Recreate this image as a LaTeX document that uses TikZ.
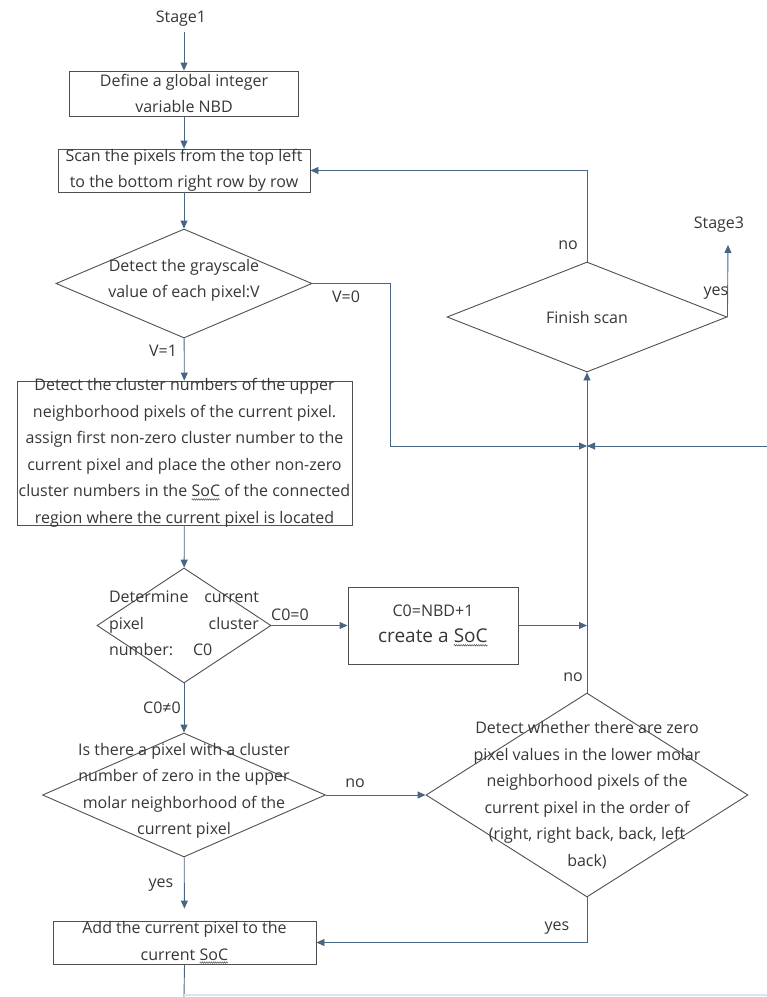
\documentclass[tikz,border=0pt]{standalone}
\usepackage{fontspec}
\setmainfont{Open Sans}
\usetikzlibrary{shapes.geometric,arrows.meta,decorations.pathmorphing}
\definecolor{conn}{RGB}{72,102,132}
\definecolor{bord}{RGB}{80,80,80}
\definecolor{txt}{RGB}{55,55,55}
\definecolor{faint}{RGB}{215,230,245}
\newcommand{\wavyword}[1]{\tikz[baseline=(w.base),x=1pt,y=1pt]{\node[inner sep=0pt,outer sep=0pt] (w) {#1};
  \draw[txt,line width=0.4pt,decorate,decoration={snake,amplitude=0.8pt,segment length=2.2pt}] ([yshift=-2.5pt]w.base west) -- ([yshift=-2.5pt]w.base east);}}
\begin{document}
\begin{tikzpicture}[x=1pt,y=-1pt,
  box/.style={draw=bord,line width=0.9pt,rectangle,inner sep=0pt},
  dia/.style={draw=bord,line width=0.9pt,diamond,inner sep=0pt},
  lbl/.style={text=txt,font=\fontsize{16}{26.5}\selectfont,align=center,inner sep=0pt},
  cn/.style={draw=conn,line width=0.9pt},
  arr/.style={cn,-{Triangle[length=8pt,width=7pt]}},
]
\fill[white] (0,0) rectangle (767,997);
\useasboundingbox (0,0) rectangle (767,997);

% nodes
\node[lbl] (s1) at (181,19) {Stage1};
\node[box,minimum width=229pt,minimum height=45pt,
  label={[lbl]center:{Define a global integer\\variable NBD}}] (def) at (184,93.5) {};
\node[box,minimum width=252pt,minimum height=43pt,
  label={[lbl]center:{Scan the pixels from the top left\\to the bottom right row by row}}] (scan) at (184,170.5) {};
\node[dia,minimum width=256pt,minimum height=109pt,
  label={[lbl,yshift=3pt]center:{Detect the grayscale\\value of each pixel:V}}] (d1) at (184,283.5) {};
\node[box,minimum width=335pt,minimum height=144pt,
  label={[lbl]center:{Detect the cluster numbers of the upper\\neighborhood pixels of the current pixel.\\assign first non-zero cluster number to the\\current pixel and place the other non-zero\\cluster numbers in the \wavyword{SoC} of the connected\\region where the current pixel is located}}] (big) at (184.5,453) {};
\node[dia,minimum width=174pt,minimum height=115pt,
  label={[lbl,yshift=2pt]center:{\makebox[150pt]{Determine\hfill current}\\\makebox[150pt]{pixel\hfill cluster}\\\makebox[150pt][l]{number:\hspace{20pt}C0}}}] (d2) at (184,625.5) {};
\node[box,minimum width=170pt,minimum height=77pt,
  label={[lbl]center:{C0=NBD+1\\{\fontsize{19}{26.5}\selectfont create a \wavyword{SoC}}}}] (c0) at (433,625.5) {};
\node[dia,minimum width=280pt,minimum height=110pt,
  label={[lbl]center:{Finish scan}}] (fin) at (587,317) {};
\node[dia,minimum width=283pt,minimum height=124pt,
  label={[lbl,yshift=4pt]center:{Is there a pixel with a cluster\\number of zero in the upper\\molar neighborhood of the\\current pixel}}] (d3) at (184,795) {};
\node[box,minimum width=263pt,minimum height=43pt,
  label={[lbl]center:{Add the current pixel to the\\current \wavyword{SoC}}}] (add) at (184.5,942.5) {};
\node[dia,minimum width=322pt,minimum height=204pt,
  label={[lbl]center:{Detect whether there are zero\\pixel values in the lower molar\\neighborhood pixels of the\\current pixel in the order of\\(right, right back, back, left\\back)}}] (d4) at (587,795) {};
\node[lbl] (s3) at (719,225) {Stage3};

% coordinates
\coordinate (s1b) at (184,32);
\coordinate (j1) at (587,625.5);
\coordinate (j2) at (587,446);
\coordinate (v0) at (390,446);
\coordinate (re) at (767,446);
\coordinate (s3t) at (728,245);
\coordinate (bot) at (184,997);
\coordinate (fa) at (184,995);
\coordinate (fb) at (767,995);

% connectors
\draw[arr] (s1b) -- (def.north);
\draw[arr] (def) -- (scan);
\draw[arr] (scan) -- (d1);
\draw[arr] (d1) -- (big);
\draw[arr] (big) -- (d2);
\draw[arr] (d2.east) -- (c0.west);
\draw[arr] (d2) -- (d3);
\draw[arr,shorten >=12pt] (d3) -- (add);
\draw[arr] (d3.east) -- (d4.west);
\draw[arr] (d4.south) |- (add.east);
\draw[arr] (d4.north) -- (fin.south);
\draw[arr] (c0.east) -- (j1);
\draw[arr] (d1.east) -| (v0) -- (j2);
\draw[arr] (re) -- (j2);
\draw[arr] (fin.north) |- (scan.east);
\draw[arr] (fin.east) -- (s3t);
\draw[cn] (add.south) -- (bot);
\draw[faint,line width=1.2pt] (fa) -- (fb);

% edge labels
\node[lbl] (lv1) at (163,351) {V=1};
\node[lbl] (lv0) at (346,297) {V=0};
\node[lbl] (lc00) at (290,615) {C0=0};
\node[lbl] (lc0n) at (162,708) {C0≠0};
\node[lbl] (ly3) at (161,885) {yes};
\node[lbl] (ln3) at (355,783) {no};
\node[lbl] (ln4) at (573,677) {no};
\node[lbl] (ly4) at (557,928) {yes};
\node[lbl] (lnf) at (568,245) {no};
\node[lbl] (lyf) at (716,293) {yes};
\end{tikzpicture}
\end{document}
